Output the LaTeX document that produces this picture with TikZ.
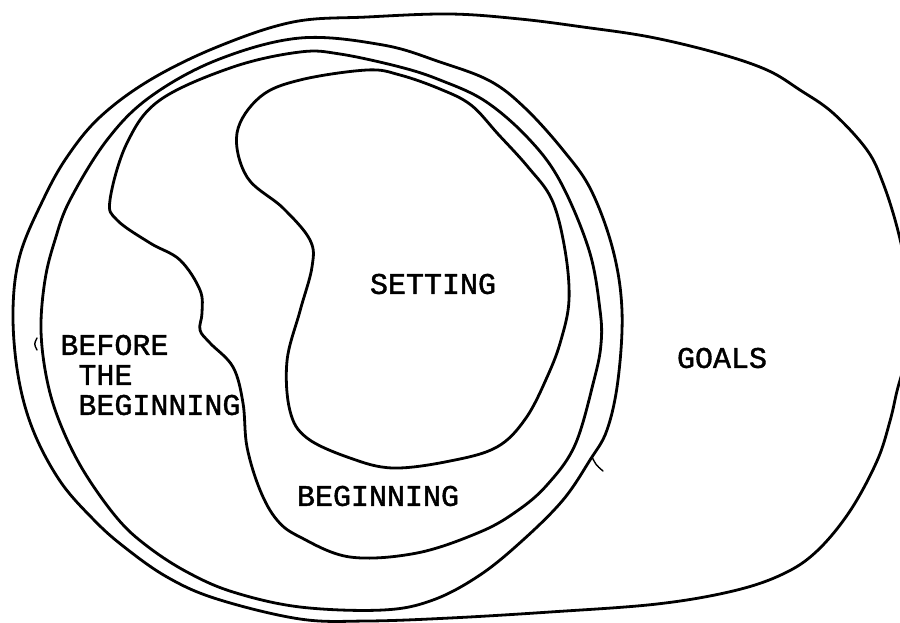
\documentclass[tikz,border=0pt]{standalone}
\usepackage{fontspec}
\newfontfamily\typewriter[FakeBold=1.3]{Liberation Mono}
\tikzset{
  regionBoundary/.style={
    draw=black,
    line width=1.4pt,
    line join=round,
    line cap=round
  },
  regionLabel/.style={
    font={\typewriter\fontsize{15}{15}\selectfont},
    inner sep=0pt
  },
  strayMark/.style={
    draw=black,
    line width=0.7pt,
    line cap=round
  }
}

\begin{document}
\begin{tikzpicture}[x=0.5pt, y=-0.5pt]
\def\tens{0.6} % smoothing of the hand-drawn outlines

\useasboundingbox (0,0) rectangle (900,622);

% Goals (outermost outline, runs past the right edge)
\draw[regionBoundary] plot[smooth cycle, tension=\tens] coordinates {
  (293,22) (367,17) (450,14) (520,19) (583,27) (650,37) (717,53)
  (767,70) (800,90) (833,113) (867,150) (883,183) (897,227) (906,270)
  (910,315) (905,360) (897,391) (890,421) (877,461) (850,511) (817,551)
  (783,574) (733,591) (657,604) (550,612) (450,618) (367,621) (300,619)
  (217,599) (167,577) (123,546) (93,519) (60,481) (33,430) (18,375)
  (13,311) (20,255) (43,200) (67,157) (100,117) (150,80) (217,47)};

% Circle round the beginning
\draw[regionBoundary] plot[smooth cycle, tension=\tens] coordinates {
  (300,38) (383,45) (440,62) (490,81) (525,108) (563,150) (591,190)
  (613,250) (622,311) (618,380) (607,430) (590,460) (563,500) (523,540)
  (480,575) (433,600) (383,610) (300,607) (233,592) (187,572) (147,546)
  (117,518) (83,470) (60,423) (47,380) (41,330) (45,280) (55,240)
  (70,200) (107,140) (150,97) (217,60)};

% Beginning
\draw[regionBoundary] plot[smooth cycle, tension=\tens] coordinates {
  (300,52) (340,54) (400,67) (440,80) (485,101) (528,138) (560,181)
  (589,250) (600,310) (601,344) (594,380) (575,445) (547,485) (517,511)
  (480,532) (417,553) (350,557) (300,537) (277,520) (260,490) (247,447)
  (243,403) (233,367) (210,343) (200,330) (202,313) (200,290) (180,260)
  (150,243) (117,220) (110,200) (127,143) (160,100) (233,67)};

% Setting (kidney shape)
\draw[regionBoundary] plot[smooth cycle, tension=\tens] coordinates {
  (300,80) (367,70) (400,75) (440,89) (471,105) (498,134) (528,167)
  (552,200) (565,250) (569,300) (561,340) (548,375) (526,418) (497,447)
  (450,461) (393,468) (350,458) (307,438) (290,411) (287,361) (300,311)
  (312,267) (310,240) (283,208) (247,177) (237,133) (260,97)};

% stray pen marks
\draw[strayMark] (592,457) .. controls (596,465) .. (603,471);
\draw[strayMark] (37,338) .. controls (34,344) .. (37,350);

% Labels
\node[regionLabel] (setting) at (433,284) {SETTING};
\node[regionLabel, align=left, anchor=west] (before) at (60,375)
  {BEFORE\\\hphantom{B}THE\\\hphantom{B}BEGINNING};
\node[regionLabel] (beginning) at (378,496) {BEGINNING};
\node[regionLabel] (goals) at (722,358) {GOALS};

\end{tikzpicture}
\end{document}
